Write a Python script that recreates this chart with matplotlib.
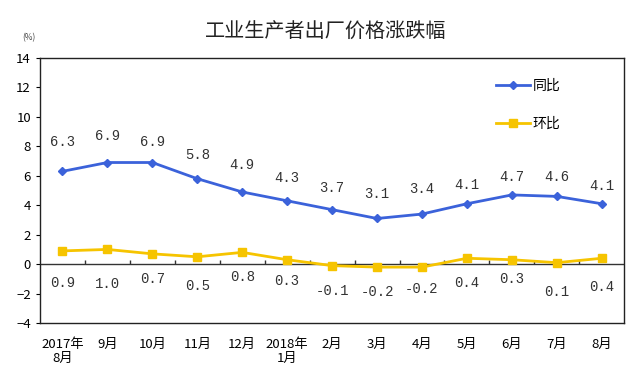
import matplotlib
matplotlib.use("Agg")
import matplotlib.pyplot as plt
import numpy as np

plt.rcParams['font.family'] = ['Noto Sans CJK SC', 'DejaVu Sans']

months = ["2017年\n8月", "9月", "10月", "11月", "12月", "2018年\n1月", "2月",
          "3月", "4月", "5月", "6月", "7月", "8月"]
yoy = [6.3, 6.9, 6.9, 5.8, 4.9, 4.3, 3.7, 3.1, 3.4, 4.1, 4.7, 4.6, 4.1]
mom = [0.9, 1.0, 0.7, 0.5, 0.8, 0.3, -0.1, -0.2, -0.2, 0.4, 0.3, 0.1, 0.4]

# label placement (layout only)
yoy_label_y = [8.3, 8.7, 8.3, 7.4, 6.7, 5.85, 5.2, 4.75, 5.1, 5.4, 5.9, 5.9, 5.3]
mom_label_y = [-1.3, -1.35, -1.0, -1.5, -0.9, -1.15, -1.85, -1.9, -1.7, -1.3, -1.0, -1.9, -1.55]

blue = "#3B62DA"
gold = "#F6C400"

fig = plt.figure(figsize=(6.35, 3.81), dpi=100)
ax = fig.add_axes([0.063, 0.152, 0.920, 0.696])

x = np.arange(len(months))
ax.plot(x, yoy, color=blue, lw=2, marker='D', ms=4.5, label="同比", zorder=3)
ax.plot(x, mom, color=gold, lw=2, marker='s', ms=6, label="环比", zorder=3)

lab_font = ['Liberation Mono', 'DejaVu Sans']
for xi, v, ly in zip(x, yoy, yoy_label_y):
    ax.text(xi, ly, f"{v:.1f}", ha='center', va='center', fontsize=10,
            family=lab_font, color='#333333')
for xi, v, ly in zip(x, mom, mom_label_y):
    ax.text(xi, ly, f"{v:.1f}", ha='center', va='center', fontsize=10,
            family=lab_font, color='#333333')

ax.axhline(0, color='#333333', lw=1, zorder=2)
ax.vlines(x[:-1] + 0.5, 0, 0.3, color='#333333', lw=1, zorder=2)

ax.set_xlim(-0.5, len(months) - 0.5)
ax.set_ylim(-4, 14)
ax.set_yticks(np.arange(-4, 15, 2))
ax.set_xticks(x)
ax.set_xticklabels(months, fontsize=9.5, linespacing=1.1)
ax.tick_params(axis='x', length=0, pad=11)
ax.tick_params(axis='y', length=3, labelsize=9.5, direction='out')
for s in ax.spines.values():
    s.set_color('#222222')
    s.set_linewidth(1)

leg = ax.legend(loc='upper right', bbox_to_anchor=(0.912, 0.968), frameon=False,
                fontsize=10, handlelength=2.4, handletextpad=0.2,
                labelspacing=1.7)

fig.text(0.513, 0.916, "工业生产者出厂价格涨跌幅", ha='center', va='center',
         fontsize=14.5, color='#222222')
fig.text(0.045, 0.900, "(%)", ha='center', va='center', fontsize=6, color='#444444')

fig.savefig("out.png", dpi=100)
